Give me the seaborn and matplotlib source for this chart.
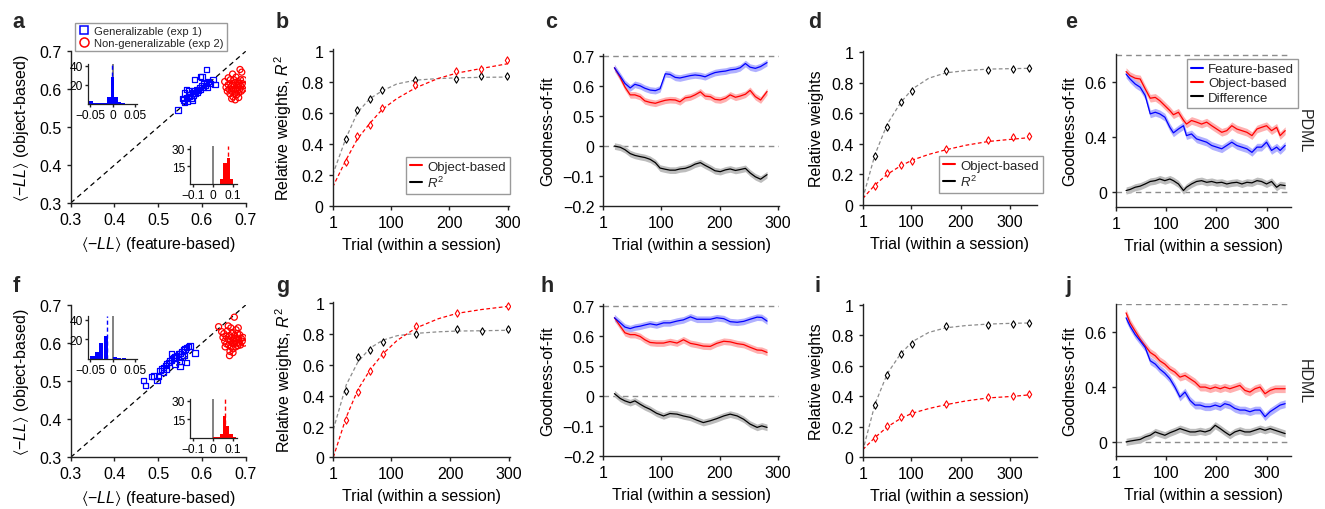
import numpy as np
import matplotlib
matplotlib.use("Agg")
import matplotlib.pyplot as plt
from matplotlib.lines import Line2D
import seaborn as sns

# ---------------- data ----------------
# panel a: <-LL> feature-based (x) vs object-based (y)
a_gen_x = [0.545, 0.555, 0.558, 0.56, 0.565, 0.567, 0.57, 0.572, 0.575, 0.578, 0.58, 0.582, 0.585, 0.587,
           0.59, 0.592, 0.595, 0.597, 0.6, 0.603, 0.605, 0.608, 0.61, 0.612, 0.615, 0.62, 0.625, 0.63,
           0.583, 0.596, 0.6, 0.611, 0.565, 0.57, 0.56, 0.578]
a_gen_y = [0.545, 0.575, 0.572, 0.565, 0.578, 0.568, 0.58, 0.585, 0.575, 0.59, 0.583, 0.595, 0.588, 0.6,
           0.593, 0.598, 0.605, 0.6, 0.61, 0.605, 0.615, 0.61, 0.618, 0.605, 0.62, 0.615, 0.625, 0.612,
           0.625, 0.634, 0.632, 0.652, 0.6, 0.595, 0.59, 0.57]
a_non_x = [0.652, 0.655, 0.658, 0.66, 0.662, 0.664, 0.665, 0.667, 0.668, 0.67, 0.671, 0.672, 0.673, 0.674,
           0.675, 0.676, 0.677, 0.678, 0.679, 0.68, 0.681, 0.682, 0.683, 0.684, 0.685, 0.686, 0.687, 0.688,
           0.689, 0.69, 0.691, 0.692, 0.694, 0.696, 0.66, 0.668, 0.676, 0.684, 0.67, 0.695]
a_non_y = [0.62, 0.605, 0.595, 0.612, 0.6, 0.588, 0.625, 0.608, 0.595, 0.615, 0.58, 0.6, 0.625, 0.61,
           0.59, 0.618, 0.6, 0.632, 0.585, 0.61, 0.597, 0.62, 0.605, 0.59, 0.615, 0.6, 0.652, 0.625,
           0.608, 0.595, 0.645, 0.615, 0.6, 0.61, 0.63, 0.575, 0.572, 0.578, 0.64, 0.625]

# panel f
f_gen_x = [0.466, 0.471, 0.485, 0.49, 0.5, 0.504, 0.508, 0.512, 0.516, 0.519, 0.523, 0.527, 0.531, 0.535,
           0.538, 0.542, 0.546, 0.55, 0.554, 0.558, 0.561, 0.565, 0.569, 0.573, 0.584, 0.565, 0.55, 0.531,
           0.519, 0.538, 0.554, 0.512, 0.497, 0.559, 0.549]
f_gen_y = [0.501, 0.488, 0.512, 0.514, 0.512, 0.528, 0.532, 0.536, 0.541, 0.545, 0.549, 0.554, 0.556, 0.561,
           0.563, 0.567, 0.571, 0.573, 0.578, 0.582, 0.584, 0.589, 0.591, 0.592, 0.574, 0.549, 0.538, 0.573,
           0.532, 0.545, 0.563, 0.523, 0.501, 0.567, 0.552]
f_non_x = [0.638, 0.645, 0.648, 0.65, 0.652, 0.655, 0.656, 0.658, 0.66, 0.661, 0.663, 0.663, 0.664, 0.665,
           0.666, 0.667, 0.668, 0.669, 0.67, 0.671, 0.672, 0.673, 0.674, 0.675, 0.676, 0.677, 0.678, 0.679,
           0.68, 0.681, 0.682, 0.683, 0.684, 0.685, 0.686, 0.688, 0.69, 0.692, 0.694, 0.697, 0.66, 0.671, 0.653]
f_non_y = [0.643, 0.63, 0.615, 0.625, 0.605, 0.618, 0.598, 0.632, 0.61, 0.595, 0.62, 0.567, 0.578, 0.605,
           0.64, 0.59, 0.615, 0.6, 0.628, 0.585, 0.61, 0.598, 0.668, 0.62, 0.605, 0.59, 0.635, 0.612,
           0.6, 0.625, 0.593, 0.64, 0.61, 0.6, 0.622, 0.595, 0.612, 0.605, 0.615, 0.6, 0.645, 0.575, 0.59]

# inset histograms (difference of <-LL>)
a_h1_bins = [-0.048, -0.04, -0.032, -0.024, -0.016, -0.008, 0.0, 0.008, 0.016, 0.024]
a_h1_counts = [3, 1, 1, 1, 1, 7, 28, 7, 2, 1]
a_h1_mean = -0.001
a_h2_bins = [0.043, 0.059, 0.075, 0.091]
a_h2_counts = [4, 18, 22, 4]
a_h2_mean = 0.074
f_h1_bins = [-0.045, -0.035, -0.025, -0.015, -0.005, 0.005, 0.015, 0.025]
f_h1_counts = [3, 7, 16, 23, 0, 2, 1, 1]
f_h1_mean = -0.012
f_h2_bins = [0.009, 0.025, 0.041, 0.057, 0.073, 0.089, 0.105]
f_h2_counts = [1, 1, 3, 18, 10, 3, 1]
f_h2_mean = 0.057

# panels b / g: relative weights and R^2 (exp 1)
bg_trials = [23, 43, 64, 85, 142, 212, 254, 298]
bg_fit_trials = [1, 23, 43, 64, 85, 110, 142, 180, 212, 254, 298]
b_r2 = [0.43, 0.617, 0.688, 0.746, 0.813, 0.817, 0.834, 0.839]
b_obj = [0.28, 0.452, 0.523, 0.628, 0.78, 0.867, 0.882, 0.942]
b_r2_fit = [0.2, 0.43, 0.6, 0.69, 0.74, 0.785, 0.81, 0.82, 0.825, 0.828, 0.83]
b_obj_fit = [0.12, 0.29, 0.43, 0.53, 0.62, 0.69, 0.76, 0.82, 0.855, 0.885, 0.915]
g_r2 = [0.433, 0.65, 0.70, 0.747, 0.80, 0.831, 0.823, 0.835]
g_obj_trials = [23, 43, 64, 85, 142, 212, 298]
g_obj = [0.245, 0.426, 0.563, 0.671, 0.855, 0.937, 0.985]
g_r2_fit = [0.18, 0.47, 0.62, 0.71, 0.76, 0.79, 0.805, 0.815, 0.82, 0.822, 0.825]
g_obj_fit = [0.0, 0.26, 0.44, 0.57, 0.67, 0.76, 0.84, 0.9, 0.935, 0.96, 0.98]

# panels d / i (exp 2)
di_trials = [26, 51, 78, 102, 169, 256, 305, 339]
di_fit_trials = [1, 26, 51, 78, 102, 135, 169, 210, 256, 305, 339]
d_r2 = [0.32, 0.51, 0.676, 0.748, 0.88, 0.884, 0.89, 0.895]
d_obj = [0.12, 0.206, 0.263, 0.289, 0.365, 0.425, 0.442, 0.449]
d_r2_fit = [0.04, 0.33, 0.53, 0.67, 0.76, 0.83, 0.865, 0.88, 0.89, 0.893, 0.895]
d_obj_fit = [0.04, 0.13, 0.2, 0.255, 0.293, 0.33, 0.36, 0.39, 0.415, 0.43, 0.44]
i_r2 = [0.346, 0.543, 0.678, 0.744, 0.864, 0.871, 0.877, 0.884]
i_obj = [0.127, 0.208, 0.263, 0.289, 0.35, 0.398, 0.405, 0.416]
i_r2_fit = [0.04, 0.35, 0.55, 0.68, 0.76, 0.82, 0.85, 0.865, 0.875, 0.88, 0.882]
i_obj_fit = [0.05, 0.13, 0.2, 0.255, 0.29, 0.32, 0.345, 0.37, 0.39, 0.40, 0.41]

# panels c / h: goodness-of-fit over trials (exp 1)
c_trials = [20, 30, 38, 47, 55, 64, 72, 81, 90, 98, 107, 115, 124, 132, 141, 150, 158, 167, 175, 184,
            192, 201, 210, 218, 227, 235, 244, 252, 261, 270, 281]
c_feat = [0.66, 0.632, 0.608, 0.593, 0.605, 0.60, 0.592, 0.586, 0.584, 0.59, 0.64, 0.638, 0.628, 0.626,
          0.63, 0.634, 0.636, 0.634, 0.63, 0.638, 0.644, 0.647, 0.649, 0.653, 0.655, 0.66, 0.674, 0.662,
          0.658, 0.664, 0.677]
c_obj = [0.66, 0.627, 0.596, 0.57, 0.57, 0.564, 0.55, 0.545, 0.542, 0.547, 0.552, 0.554, 0.553, 0.547,
         0.56, 0.563, 0.57, 0.58, 0.566, 0.564, 0.555, 0.553, 0.559, 0.57, 0.562, 0.566, 0.572, 0.585,
         0.564, 0.553, 0.581]
c_diff = [0.0, -0.004, -0.012, -0.025, -0.031, -0.035, -0.038, -0.044, -0.055, -0.073, -0.077, -0.08,
          -0.08, -0.076, -0.074, -0.068, -0.06, -0.055, -0.064, -0.073, -0.082, -0.085, -0.079, -0.076,
          -0.081, -0.078, -0.074, -0.089, -0.102, -0.11, -0.095]
h_trials = [20, 30, 38, 47, 55, 64, 72, 81, 92, 104, 115, 127, 138, 150, 161, 172, 184, 195, 207, 218,
            230, 241, 252, 264, 272, 281]
h_feat = [0.66, 0.643, 0.629, 0.624, 0.629, 0.632, 0.636, 0.64, 0.636, 0.643, 0.643, 0.649, 0.653, 0.663,
          0.655, 0.655, 0.655, 0.66, 0.657, 0.647, 0.645, 0.648, 0.655, 0.662, 0.661, 0.649]
h_obj = [0.66, 0.632, 0.61, 0.604, 0.604, 0.598, 0.587, 0.578, 0.576, 0.576, 0.581, 0.576, 0.587, 0.575,
         0.571, 0.566, 0.565, 0.575, 0.582, 0.58, 0.574, 0.571, 0.562, 0.553, 0.552, 0.545]
h_diff = [0.008, -0.008, -0.016, -0.022, -0.016, -0.027, -0.036, -0.044, -0.057, -0.066, -0.058, -0.06,
          -0.066, -0.071, -0.08, -0.088, -0.082, -0.075, -0.066, -0.06, -0.066, -0.077, -0.093, -0.104,
          -0.099, -0.104]

# panels e / j: goodness-of-fit over trials (exp 2)
e_trials = [21, 29, 39, 49, 59, 69, 79, 88, 98, 108, 115, 125, 135, 141, 151, 161, 171, 181, 191, 201,
            211, 221, 231, 241, 251, 261, 271, 281, 290, 300, 310, 320, 327, 337]
e_feat = [0.63, 0.612, 0.594, 0.582, 0.552, 0.485, 0.491, 0.485, 0.473, 0.436, 0.416, 0.43, 0.442, 0.406,
          0.412, 0.394, 0.388, 0.382, 0.37, 0.364, 0.358, 0.37, 0.382, 0.37, 0.364, 0.358, 0.345, 0.364,
          0.364, 0.382, 0.352, 0.364, 0.352, 0.37]
e_obj = [0.639, 0.624, 0.615, 0.612, 0.576, 0.542, 0.545, 0.533, 0.515, 0.497, 0.482, 0.491, 0.462, 0.448,
         0.461, 0.455, 0.448, 0.455, 0.442, 0.43, 0.418, 0.424, 0.442, 0.43, 0.424, 0.418, 0.406, 0.43,
         0.436, 0.442, 0.424, 0.436, 0.406, 0.424]
e_diff = [0.006, 0.01, 0.018, 0.022, 0.03, 0.039, 0.042, 0.048, 0.042, 0.048, 0.042, 0.03, 0.006, 0.018,
          0.03, 0.039, 0.042, 0.036, 0.039, 0.034, 0.036, 0.03, 0.034, 0.036, 0.03, 0.036, 0.034, 0.042,
          0.039, 0.03, 0.039, 0.018, 0.027, 0.024]
j_trials = [21, 29, 39, 49, 59, 69, 79, 88, 98, 108, 118, 128, 138, 148, 158, 168, 178, 188, 198, 208,
            217, 227, 237, 247, 257, 267, 277, 287, 297, 307, 317, 327, 337]
j_feat = [0.65, 0.62, 0.59, 0.567, 0.543, 0.495, 0.483, 0.465, 0.45, 0.43, 0.40, 0.364, 0.382, 0.352,
          0.335, 0.335, 0.329, 0.329, 0.335, 0.329, 0.34, 0.335, 0.323, 0.317, 0.317, 0.311, 0.317, 0.317,
          0.293, 0.311, 0.323, 0.335, 0.34]
j_obj = [0.668, 0.632, 0.602, 0.573, 0.549, 0.525, 0.513, 0.495, 0.483, 0.465, 0.454, 0.436, 0.442, 0.43,
         0.418, 0.40, 0.40, 0.394, 0.40, 0.394, 0.40, 0.394, 0.40, 0.406, 0.388, 0.382, 0.394, 0.40, 0.376,
         0.388, 0.394, 0.394, 0.394]
j_diff = [0.002, 0.005, 0.008, 0.011, 0.02, 0.026, 0.038, 0.032, 0.026, 0.035, 0.042, 0.05, 0.044, 0.038,
          0.038, 0.042, 0.038, 0.044, 0.062, 0.05, 0.038, 0.026, 0.038, 0.044, 0.038, 0.038, 0.044, 0.05,
          0.044, 0.05, 0.044, 0.038, 0.032]

# ---------------- style ----------------
sns.set_theme(style="ticks")
plt.rcParams["font.family"] = ["Liberation Sans", "DejaVu Sans"]
plt.rcParams.update({
    "mathtext.fontset": "custom",
    "mathtext.rm": "Liberation Sans",
    "mathtext.it": "Liberation Sans:italic",
    "mathtext.bf": "Liberation Sans:bold",
    "mathtext.fallback": "stixsans",
    "axes.edgecolor": "#222222",
    "axes.linewidth": 1.0,
    "xtick.major.size": 3,
    "ytick.major.size": 3,
    "xtick.major.width": 1.0,
    "ytick.major.width": 1.0,
    "xtick.color": "#222222",
    "ytick.color": "#222222",
    "xtick.labelcolor": "black",
    "ytick.labelcolor": "black",
    "xtick.labelsize": 11.5,
    "ytick.labelsize": 11.5,
    "axes.labelsize": 11.5,
    "axes.labelcolor": "black",
})

W, H = 1325, 510
fig = plt.figure(figsize=(W / 100, H / 100), dpi=100)


def px_axes(l, t, r, b):
    ax = fig.add_axes([l / W, 1 - b / H, (r - l) / W, (b - t) / H])
    sns.despine(ax=ax)
    return ax


BLUE = "#0000ff"
RED = "#ff0000"
GREY = "#8c8c8c"
TRIAL_LABEL = "Trial (within a session)"
LL_X = r"$\mathrm{\langle}{-}LL\mathrm{\rangle}$ (feature-based)"
LL_Y = r"$\mathrm{\langle}{-}LL\mathrm{\rangle}$ (object-based)"


def legend_box(ax, handles, labels, size, **kw):
    leg = ax.legend(handles, labels, fontsize=size, frameon=True, fancybox=False,
                    edgecolor="#9a9a9a", framealpha=1, borderpad=0.3, labelspacing=0.15,
                    handletextpad=0.4, borderaxespad=0, **kw)
    leg.get_frame().set_linewidth(1.0)
    return leg


def scatter_panel(box, gx, gy, nx, ny, with_legend):
    ax = px_axes(*box)
    sns.scatterplot(x=gx, y=gy, marker="s", s=15, facecolors="none", edgecolors=BLUE,
                    linewidth=0.9, ax=ax, zorder=3)
    sns.scatterplot(x=nx, y=ny, marker="o", s=19, facecolors="none", edgecolors=RED,
                    linewidth=0.9, ax=ax, zorder=3)
    ax.axline((0.3, 0.3), slope=1, color="black", ls=(0, (4, 3)), lw=0.9, zorder=1)
    ax.set_xlim(0.3, 0.7)
    ax.set_ylim(0.3, 0.7)
    ticks = [0.3, 0.4, 0.5, 0.6, 0.7]
    ax.set_xticks(ticks)
    ax.set_yticks(ticks)
    ax.set_xticklabels([f"{t:.1f}" for t in ticks])
    ax.set_yticklabels([f"{t:.1f}" for t in ticks])
    ax.set_xlabel(LL_X, labelpad=5)
    ax.set_ylabel(LL_Y, labelpad=6)
    if with_legend:
        hs = [Line2D([], [], ls="none", marker="s", mfc="none", mec=BLUE, ms=6, mew=1.1),
              Line2D([], [], ls="none", marker="o", mfc="none", mec=RED, ms=6.5, mew=1.1)]
        legend_box(ax, hs, ["Generalizable (exp 1)", "Non-generalizable (exp 2)"], 8.1,
                   loc="upper left", bbox_to_anchor=(75 / W, 1 - 24 / H),
                   bbox_transform=fig.transFigure, handlelength=1.0)
    return ax


def hist_inset(box, centers, counts, width, mean, color, xlim, ylim, xticks, xlabels, yticks):
    ax = px_axes(*box)
    ax.patch.set_alpha(0)
    ax.axvline(0, color="#777777", lw=1.3, zorder=1)
    ax.axvline(mean, color=color, lw=1.0, ls=(0, (3, 2)), zorder=1)
    ax.bar(centers, counts, width=width, color=color, edgecolor="none", zorder=2)
    ax.set_xlim(*xlim)
    ax.set_ylim(*ylim)
    ax.set_xticks(xticks)
    ax.set_xticklabels(xlabels)
    ax.set_yticks(yticks)
    ax.tick_params(labelsize=8.6, length=2, pad=1.5)
    for s in ax.spines.values():
        s.set_linewidth(0.9)
    return ax


def weights_panel(box, xlim, trials, r2, obj_trials, obj, fit_trials, r2_fit, obj_fit, ylabel,
                  legend_anchor=None):
    ax = px_axes(*box)
    sns.lineplot(x=fit_trials, y=r2_fit, color=GREY, lw=0.9, ls=(0, (3, 2)), ax=ax)
    sns.lineplot(x=fit_trials, y=obj_fit, color=RED, lw=0.9, ls=(0, (3, 2)), ax=ax)
    sns.scatterplot(x=trials, y=r2, marker="d", s=14, facecolors="white", edgecolors="black",
                    linewidth=0.8, ax=ax, zorder=3)
    sns.scatterplot(x=obj_trials, y=obj, marker="d", s=14, facecolors="white", edgecolors=RED,
                    linewidth=0.8, ax=ax, zorder=3)
    ax.set_xlim(*xlim)
    ax.set_ylim(0, 1.01)
    ax.set_xticks([1, 100, 200, 300])
    ax.set_yticks([0, 0.2, 0.4, 0.6, 0.8, 1])
    ax.set_yticklabels(["0", "0.2", "0.4", "0.6", "0.8", "1"])
    ax.set_xlabel(TRIAL_LABEL, labelpad=5)
    ax.set_ylabel(ylabel, labelpad=5)
    if legend_anchor is not None:
        hs = [Line2D([], [], color=RED, lw=1.5), Line2D([], [], color="black", lw=1.5)]
        legend_box(ax, hs, ["Object-based", r"$R^2$"], 9.5, loc="lower right",
                   bbox_to_anchor=(legend_anchor[0] / W, 1 - legend_anchor[1] / H),
                   bbox_transform=fig.transFigure, handlelength=0.9)
    return ax


def band_line(ax, x, y, color, band_color, half):
    y = np.asarray(y)
    ax.fill_between(x, y - half, y + half, color=band_color, lw=0, zorder=1)
    sns.lineplot(x=x, y=y, color=color, lw=0.9, ax=ax, zorder=2)


def gof_split_panel(box, trials, feat, obj, diff):
    """Broken y-axis: 0.5-0.7 shown above, difference (-0.2-0) shown below."""
    ax = px_axes(*box)
    off = 0.4  # difference 0 drawn at 0.4 on the split axis
    ax.axhline(0.7, color=GREY, lw=1.0, ls=(0, (4, 3)), zorder=0)
    ax.axhline(off, color=GREY, lw=1.0, ls=(0, (4, 3)), zorder=0)
    band_line(ax, trials, np.asarray(diff) + off, "black", "#bdbdbd", 0.011)
    band_line(ax, trials, obj, RED, "#ffb0b0", 0.011)
    band_line(ax, trials, feat, BLUE, "#b0b0ff", 0.011)
    ax.set_xlim(1, 302)
    ax.set_ylim(0.2, 0.705)
    ax.set_xticks([1, 100, 200, 300])
    ax.set_yticks([0.2, 0.3, 0.4, 0.5, 0.6, 0.7])
    ax.set_yticklabels(["\u22120.2", "\u22120.1", "0", "0.5", "0.6", "0.7"])
    ax.set_xlabel(TRIAL_LABEL, labelpad=5)
    ax.set_ylabel("Goodness-of-fit", labelpad=5)
    return ax


def gof_panel2(box, ylim, trials, feat, obj, diff, side_label, with_legend):
    ax = px_axes(*box)
    off = 0.2  # difference 0 drawn at 0.2
    ax.axhline(0.7, color=GREY, lw=1.0, ls=(0, (4, 3)), zorder=0)
    ax.axhline(off, color=GREY, lw=1.0, ls=(0, (4, 3)), zorder=0)
    band_line(ax, trials, np.asarray(diff) + off, "black", "#bdbdbd", 0.013)
    band_line(ax, trials, obj, RED, "#ffb0b0", 0.014)
    band_line(ax, trials, feat, BLUE, "#b0b0ff", 0.014)
    ax.set_xlim(1, 348)
    ax.set_ylim(*ylim)
    ax.set_xticks([1, 100, 200, 300])
    ax.set_yticks([0.2, 0.4, 0.6])
    ax.set_yticklabels(["0", "0.4", "0.6"])
    ax.set_xlabel(TRIAL_LABEL, labelpad=5)
    ax.set_ylabel("Goodness-of-fit", labelpad=5)
    ax.text(1.08, 0.5, side_label, transform=ax.transAxes, rotation=270, va="center",
            ha="center", fontsize=11.5)
    if with_legend:
        hs = [Line2D([], [], color=BLUE, lw=1.5), Line2D([], [], color=RED, lw=1.5),
              Line2D([], [], color="black", lw=1.5)]
        legend_box(ax, hs, ["Feature-based", "Object-based", "Difference"], 9.5,
                   loc="upper right", bbox_to_anchor=(1298 / W, 1 - 60 / H),
                   bbox_transform=fig.transFigure, handlelength=0.9)
    return ax


# ---------------- row 1 ----------------
scatter_panel((70.7, 52.3, 245.7, 204), a_gen_x, a_gen_y, a_non_x, a_non_y, True)
hist_inset((88, 65, 137, 105), a_h1_bins, a_h1_counts, 0.008, a_h1_mean, BLUE,
           (-0.055, 0.055), (0, 42), [-0.05, 0, 0.05], ["\u22120.05", "0", "0.05"], [20, 40])
hist_inset((190, 146.7, 236.7, 185), a_h2_bins, a_h2_counts, 0.016, a_h2_mean, RED,
           (-0.113, 0.117), (0, 32.6), [-0.1, 0, 0.1], ["\u22120.1", "0", "0.1"], [15, 30])
weights_panel((332.7, 50.15, 509.3, 206.7), (1, 302), bg_trials, b_r2, bg_trials, b_obj,
              bg_fit_trials, b_r2_fit, b_obj_fit, r"Relative weights, $R^2$", (510, 195))
gof_split_panel((603.3, 55.2, 779.3, 207.3), c_trials, c_feat, c_obj, c_diff)
weights_panel((862.7, 51.8, 1036.7, 205.7), (1, 354), di_trials, d_r2, di_trials, d_obj,
              di_fit_trials, d_r2_fit, d_obj_fit, "Relative weights", (1043, 194))
gof_panel2((1116, 55, 1290.7, 208.3), (0.145, 0.703), e_trials, e_feat, e_obj, e_diff, "PDML", True)

# ---------------- row 2 ----------------
scatter_panel((70.7, 306, 245.7, 458.3), f_gen_x, f_gen_y, f_non_x, f_non_y, False)
hist_inset((88, 316.7, 137, 360), f_h1_bins, f_h1_counts, 0.0095, f_h1_mean, BLUE,
           (-0.055, 0.055), (0, 44), [-0.05, 0, 0.05], ["\u22120.05", "0", "0.05"], [20, 40])
hist_inset((190, 400, 236.7, 439), f_h2_bins, f_h2_counts, 0.016, f_h2_mean, RED,
           (-0.113, 0.117), (0, 31.3), [-0.1, 0, 0.1], ["\u22120.1", "0", "0.1"], [15, 30])
weights_panel((333.3, 302.8, 509.9, 458.3), (1, 302), bg_trials, g_r2, g_obj_trials, g_obj,
              bg_fit_trials, g_r2_fit, g_obj_fit, r"Relative weights, $R^2$")
gof_split_panel((603.3, 305.2, 779.3, 457.3), h_trials, h_feat, h_obj, h_diff)
weights_panel((862.7, 304.5, 1036.7, 458.3), (1, 354), di_trials, i_r2, di_trials, i_obj,
              di_fit_trials, i_r2_fit, i_obj_fit, "Relative weights")
gof_panel2((1116, 305, 1290.7, 457.3), (0.15, 0.70), j_trials, j_feat, j_obj, j_diff, "HDML", False)

# ---------------- panel letters ----------------
letters = [("a", 12, 28), ("b", 276, 28), ("c", 545, 28), ("d", 808, 28), ("e", 1065, 28),
           ("f", 13, 292), ("g", 276, 292), ("h", 540, 292), ("i", 815, 292), ("j", 1065, 292)]
for lab, x, y in letters:
    fig.text(x / W, 1 - y / H, lab, fontsize=15.5, fontweight="bold", ha="left", va="baseline")

fig.savefig("out.png", dpi=100)
